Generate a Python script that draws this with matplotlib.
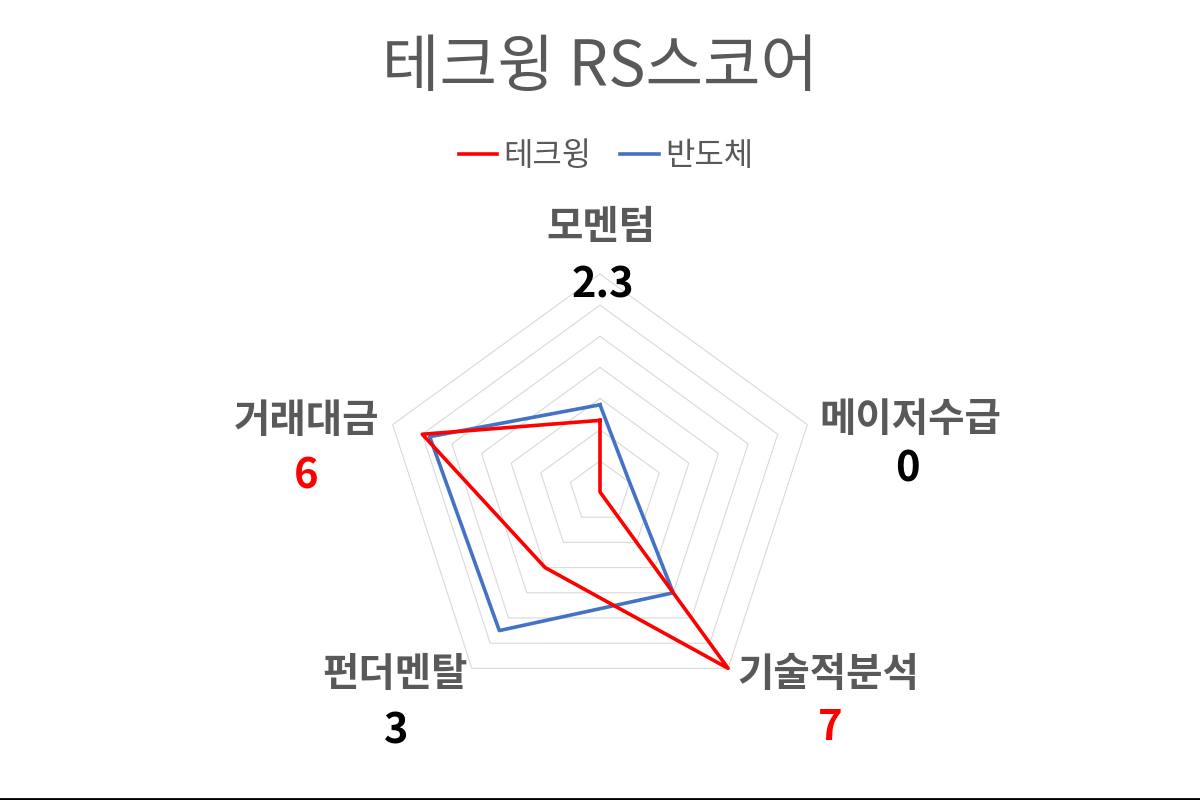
import numpy as np
import matplotlib
matplotlib.use('Agg')
import matplotlib.pyplot as plt
from matplotlib.lines import Line2D

plt.rcParams['font.family'] = ['Noto Sans CJK KR', 'DejaVu Sans']

# ---------------------------------------------------------------------------
# dados
# ---------------------------------------------------------------------------
CATEGORIAS = ['모멘텀', '메이저수급', '기술적분석', '펀더멘탈', '거래대금']
TECHWING = [2.3, 0, 7, 3, 6]
BANDOCHE = [2.8, 1.0, 4.0, 5.5, 5.75]
VALOR_TXT = ['2.3', '0', '7', '3', '6']
VALOR_COR = ['black', 'black', '#FF0000', 'black', '#FF0000']
R_MAX = 7

# posições dos rótulos (pixels na figura 1200x800)
POS_CAT = [(601, 227), (910, 419), (828, 675), (395, 675), (307, 420)]
POS_VAL = [(603, 286), (907, 470), (830, 728), (396, 731), (306, 477)]

COR_TW = '#FF0000'
COR_BD = '#4472C4'
COR_TXT = '#595959'
COR_GRADE = '#D9D9D9'

W, H = 1200, 800
fig = plt.figure(figsize=(12, 8), dpi=100)

cx, cy, R = 600, 492, 218
ax = fig.add_axes([(cx - R) / W, (H - cy - R) / H, 2 * R / W, 2 * R / H],
                  projection='polar')
ax.set_theta_offset(np.pi / 2)
ax.set_theta_direction(-1)
ax.set_ylim(0, R_MAX)
ax.grid(False)
ax.spines['polar'].set_visible(False)
ax.set_xticks([])
ax.set_yticks([])
ax.patch.set_alpha(0)

ang = np.linspace(0, 2 * np.pi, len(CATEGORIAS), endpoint=False)
ang_f = np.append(ang, ang[0])

# grade pentagonal
for k in range(1, R_MAX + 1):
    ax.plot(ang_f, [k] * len(ang_f), color=COR_GRADE, lw=0.8, zorder=1, clip_on=False)

ax.plot(ang_f, TECHWING + TECHWING[:1], color=COR_TW, lw=2.6, zorder=3,
        clip_on=False, label='테크윙')
ax.plot(ang_f, BANDOCHE + BANDOCHE[:1], color=COR_BD, lw=2.6, zorder=2,
        clip_on=False, label='반도체')

# rótulos
for (x, y), txt in zip(POS_CAT, CATEGORIAS):
    fig.text(x / W, 1 - y / H, txt, ha='center', va='center', fontsize=28.5,
             fontweight='bold', color=COR_TXT)
for (x, y), txt, c in zip(POS_VAL, VALOR_TXT, VALOR_COR):
    fig.text(x / W, 1 - y / H, txt, ha='center', va='center', fontsize=30,
             fontweight='bold', color=c)

fig.text(0.5, 1 - 68 / H, '테크윙 RS스코어', ha='center', va='center',
         fontsize=45, color=COR_TXT)

h, l = ax.get_legend_handles_labels()
leg = fig.legend(h, l, loc='center', bbox_to_anchor=(606 / W, 1 - 156 / H), ncol=2,
                 frameon=False, fontsize=23, handlelength=1.2, handletextpad=0.2,
                 columnspacing=0.9)
for t in leg.get_texts():
    t.set_color(COR_TXT)

fig.add_artist(Line2D([0, 1], [1.5 / H, 1.5 / H], transform=fig.transFigure,
                      color='black', lw=2))

fig.savefig('out.png', dpi=100, facecolor='white')
